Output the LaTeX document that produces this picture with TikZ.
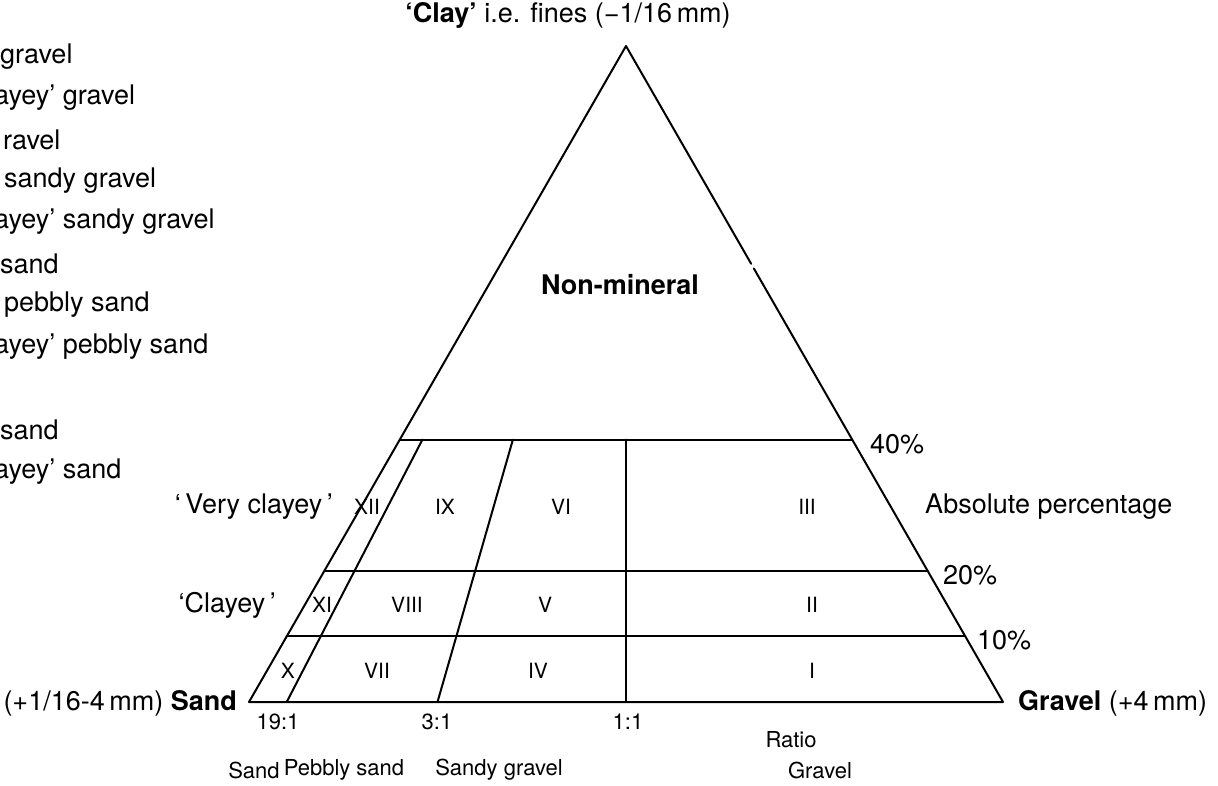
\documentclass[tikz,border=0pt]{standalone}
\usepackage{fontspec}
\setmainfont{TeX Gyre Heros}
\usetikzlibrary{calc}
\begin{document}
\begin{tikzpicture}[x=1pt,y=-1pt,
  edge/.style={line width=2pt, line cap=round, line join=round},
  lab/.style={font=\fontsize{27}{32}\selectfont, inner sep=0pt},
  small/.style={font=\fontsize{22}{26}\selectfont, inner sep=0pt},
  num/.style={font=\fontsize{21}{24}\selectfont, inner sep=0pt},
]
\useasboundingbox (0,0) rectangle (1218,786);
% corners
\coordinate (A) at (626,46);
\coordinate (L) at (249,702);
\coordinate (R) at (1003,702);
% percentage levels
\coordinate (L40) at ($(L)!0.4!(A)$);
\coordinate (R40) at ($(R)!0.4!(A)$);
\coordinate (L20) at ($(L)!0.2!(A)$);
\coordinate (R20) at ($(R)!0.2!(A)$);
\coordinate (L10) at ($(L)!0.1!(A)$);
\coordinate (R10) at ($(R)!0.1!(A)$);
% ratio points
\coordinate (P19) at ($(L)!0.05!(R)$);
\coordinate (P3) at ($(L)!0.25!(R)$);
\coordinate (P1) at ($(L)!0.5!(R)$);
\coordinate (Q19) at ($(P19)!0.4!(A)$);
\coordinate (Q3) at ($(P3)!0.4!(A)$);
\coordinate (Q1) at ($(P1)!0.4!(A)$);
% gap on right side
\coordinate (G1) at ($(A)!0.332!(R)$);
\coordinate (G2) at ($(A)!0.339!(R)$);
% outline
\draw[edge] (G1) -- (A) -- (L) -- (R) -- (G2);
\draw[edge] (L40) -- (R40);
\draw[edge] (L20) -- (R20);
\draw[edge] (L10) -- (R10);
\draw[edge] (P19) -- (Q19);
\draw[edge] (P3) -- (Q3);
\draw[edge] (P1) -- (Q1);
% title and field
\node[lab] (title) at (568,15) {\textbf{‘Clay’} i.e. fines (−1/16\,mm)};
\node[lab] (nonmin) at (620,285) {\textbf{Non-mineral}};
% roman numerals
\node[num] (n12) at (367,507) {XII};
\node[num] (n9) at (445,507) {IX};
\node[num] (n6) at (561,507) {VI};
\node[num] (n3) at (807,507) {III};
\node[num] (n11) at (322,605) {XI};
\node[num] (n8) at (407,605) {VIII};
\node[num] (n5) at (545,605) {V};
\node[num] (n2) at (812,605) {II};
\node[num] (n10) at (288,671) {X};
\node[num] (n7) at (377,671) {VII};
\node[num] (n4) at (538,671) {IV};
\node[num] (n1) at (812,671) {I};
% right labels
\node[lab, anchor=west] (p40) at (870,444) {40\%};
\node[lab, anchor=west] (abs) at (925,507) {Absolute percentage};
\node[lab, anchor=west] (p20) at (943,575) {20\%};
\node[lab, anchor=west] (p10) at (977,640) {10\%};
% left labels
\node[lab, anchor=east] (vc) at (333,507) {‘\,Very clayey\,’};
\node[lab, anchor=east] (cl) at (276,605) {‘Clayey\,’};
\node[lab, anchor=east] (sandc) at (237,703) {(+1/16-4\,mm) \textbf{Sand}};
\node[lab, anchor=west] (gravc) at (1018,703) {\textbf{Gravel} (+4\,mm)};
% ratio labels
\node[small] (r19) at (278,722) {19:1};
\node[small] (r3) at (437,722) {3:1};
\node[small] (r1) at (628,722) {1:1};
\node[small] (ratio) at (791,740) {Ratio};
\node[small] (bsand) at (254,770) {Sand};
\node[small] (bpeb) at (344,770) {Pebbly sand};
\node[small] (bsg) at (499,770) {Sandy gravel};
\node[small] (bgr) at (820,770) {Gravel};
% cut-off legend
\node[lab, anchor=west] (k1) at (0,57) {gravel};
\node[lab, anchor=west] (k2) at (-6,98) {ayey’ gravel};
\node[lab, anchor=west] (k3) at (3,140) {ravel};
\node[lab, anchor=west] (k4) at (4,181) {sandy gravel};
\node[lab, anchor=west] (k5) at (-6,222) {ayey’ sandy gravel};
\node[lab, anchor=west] (k6) at (0,264) {sand};
\node[lab, anchor=west] (k7) at (4,305) {pebbly sand};
\node[lab, anchor=west] (k8) at (-6,347) {ayey’ pebbly sand};
\node[lab, anchor=west] (k9) at (0,430) {sand};
\node[lab, anchor=west] (k10) at (-6,472) {ayey’ sand};
\end{tikzpicture}
\end{document}
